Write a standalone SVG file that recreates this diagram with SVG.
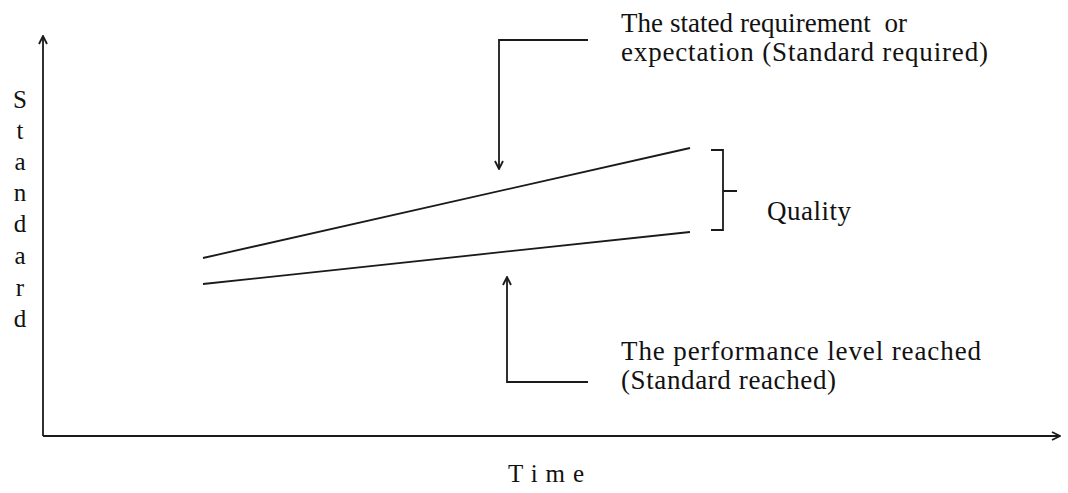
<svg xmlns="http://www.w3.org/2000/svg" width="1068" height="493" viewBox="0 0 1068 493">
  <style>
    .lbl { font-family: "Liberation Serif", "Times New Roman", serif; font-size: 27px; fill: #111; }
    .axis-lbl { font-family: "Liberation Serif", "Times New Roman", serif; font-size: 25px; fill: #111; }
    .ln { stroke: #1a1a1a; stroke-width: 1.8; fill: none; }
  </style>
  <defs>
    <marker id="arrow" viewBox="0 0 10 10" refX="9" refY="5" markerWidth="10" markerHeight="10" markerUnits="userSpaceOnUse" orient="auto">
      <path d="M1,1 L9,5 L1,9" fill="none" stroke="#1a1a1a" stroke-width="1.8"/>
    </marker>
  </defs>

  <!-- axes -->
  <g id="axes">
    <line class="ln" x1="43" y1="436" x2="43" y2="36" marker-end="url(#arrow)"/>
    <line class="ln" x1="43" y1="436" x2="1060" y2="436" marker-end="url(#arrow)"/>
  </g>

  <!-- vertical axis label -->
  <g id="y-label" class="axis-lbl" text-anchor="middle">
    <text x="20" y="108">S</text>
    <text x="20" y="139">t</text>
    <text x="20" y="170">a</text>
    <text x="20" y="201">n</text>
    <text x="20" y="232">d</text>
    <text x="20" y="264">a</text>
    <text x="20" y="296">r</text>
    <text x="20" y="327">d</text>
  </g>

  <!-- horizontal axis label -->
  <g id="x-label">
    <text class="axis-lbl" x="508" y="482" textLength="76" lengthAdjust="spacing">T i m e</text>
  </g>

  <!-- standard required / standard reached lines -->
  <g id="required-line">
    <line class="ln" x1="203" y1="258" x2="690" y2="148"/>
  </g>
  <g id="reached-line">
    <line class="ln" x1="203" y1="284" x2="690" y2="232"/>
  </g>

  <!-- quality gap bracket -->
  <g id="quality">
    <path class="ln" d="M711,150 L723,150 L723,230 L711,230 M723,191 L737,191"/>
    <text class="lbl" x="767" y="220" textLength="84" lengthAdjust="spacing">Quality</text>
  </g>

  <!-- callout texts -->
  <g id="required-note">
    <text class="lbl" x="621" y="32" textLength="286" lengthAdjust="spacing" style="white-space:pre">The stated requirement  or</text>
    <text class="lbl" x="621" y="61" textLength="367" lengthAdjust="spacing">expectation (Standard required)</text>
  </g>
  <g id="reached-note">
    <text class="lbl" x="621" y="360" textLength="360" lengthAdjust="spacing">The performance level reached</text>
    <text class="lbl" x="621" y="389" textLength="215" lengthAdjust="spacing">(Standard reached)</text>
  </g>

  <!-- connectors -->
  <g id="connectors">
    <path class="ln" d="M588,40 L499,40 L499,169" marker-end="url(#arrow)"/>
    <path class="ln" d="M588,382 L507,382 L507,277" marker-end="url(#arrow)"/>
  </g>
</svg>
